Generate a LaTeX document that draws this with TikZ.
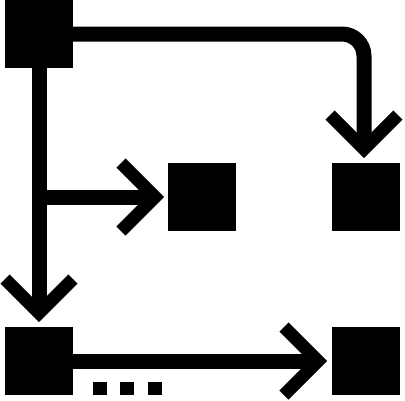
\documentclass[tikz,border=0pt]{standalone}
\usetikzlibrary{calc}
\begin{document}
\begin{tikzpicture}[x=1pt,y=-1pt,
  box/.style={fill=black, draw=none, minimum width=68pt, minimum height=68pt, inner sep=0pt, outer sep=0pt},
  shaft/.style={line width=15pt},
  chev/.style={line width=13pt, line join=miter, miter limit=10},
  dotbox/.style={fill=black, draw=none, minimum width=14pt, minimum height=13pt, inner sep=0pt, outer sep=0pt}]
\useasboundingbox (0,0) rectangle (405,400);
% squares
\node[box] (tl)  at (39,34) {};
\node[box] (mid) at (202,197) {};
\node[box] (tr)  at (366,197) {};
\node[box] (bl)  at (39,361) {};
\node[box] (br)  at (366,361) {};
% dots
\node[dotbox] (d1) at (100,388.5) {};
\node[dotbox] (d2) at (127,388.5) {};
\node[dotbox] (d3) at (155,388.5) {};
% arrow vertices
\coordinate (v1) at (364,149);
\coordinate (v2) at (155,197);
\coordinate (v3) at (39,313);
\coordinate (v4) at (318,361);
\coordinate (j) at (tl.south |- mid.west);
% shafts
\draw[shaft, rounded corners=22pt] (tl.east) -| (v1);
\draw[shaft] (tl.south) -- (v3);
\draw[shaft] (j) -- (v2);
\draw[shaft] (bl.east) -- (v4);
% chevrons
\draw[chev] ($(v1)+(-34,-34)$) -- (v1) -- ($(v1)+(34,-34)$);
\draw[chev] ($(v3)+(-34,-34)$) -- (v3) -- ($(v3)+(34,-34)$);
\draw[chev] ($(v2)+(-34,-34)$) -- (v2) -- ($(v2)+(-34,34)$);
\draw[chev] ($(v4)+(-34,-34)$) -- (v4) -- ($(v4)+(-34,34)$);
\end{tikzpicture}
\end{document}
